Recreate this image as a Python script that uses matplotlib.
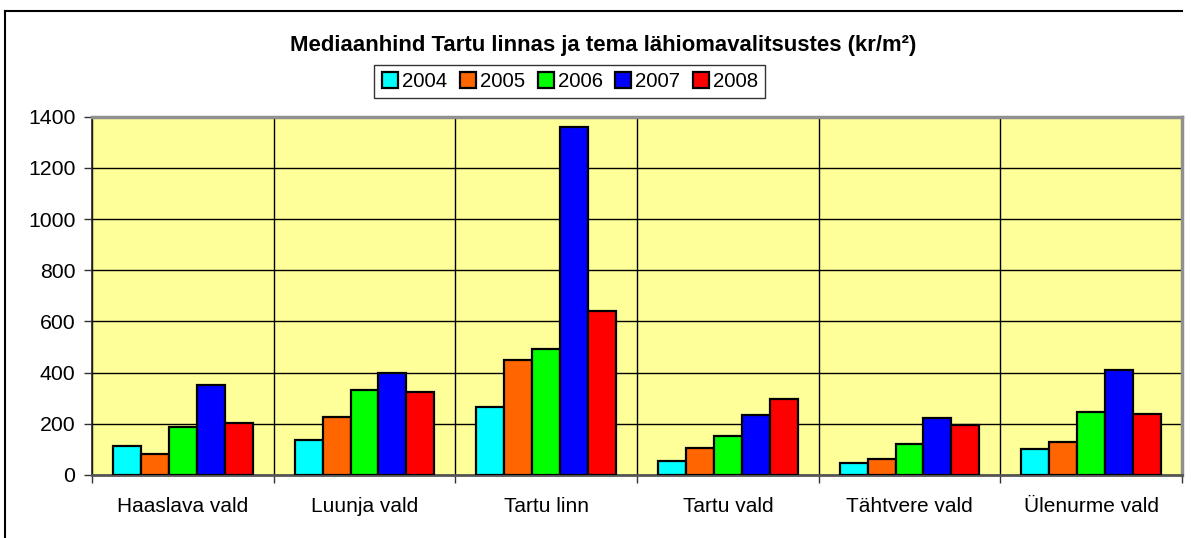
import matplotlib
matplotlib.use("Agg")
import matplotlib.pyplot as plt
import numpy as np
from matplotlib.lines import Line2D

plt.rcParams['font.family'] = ['Liberation Sans', 'DejaVu Sans']

categories = ["Haaslava vald", "Luunja vald", "Tartu linn", "Tartu vald", "Tähtvere vald", "Ülenurme vald"]
years = ["2004", "2005", "2006", "2007", "2008"]
v2004 = [114, 137, 264, 55, 46, 103]
v2005 = [81, 228, 449, 104, 64, 129]
v2006 = [186, 332, 491, 152, 121, 246]
v2007 = [352, 397, 1358, 233, 222, 411]
v2008 = [204, 325, 641, 296, 195, 238]
series = [v2004, v2005, v2006, v2007, v2008]
colors = ["#00FFFF", "#FF6600", "#00FF00", "#0000FF", "#FF0000"]
title = "Mediaanhind Tartu linnas ja tema lähiomavalitsustes (kr/m²)"

W, H = 1191, 538
fig = plt.figure(figsize=(W / 100, H / 100), dpi=100)
ax = fig.add_axes([92 / W, (H - 475) / H, (1182 - 92) / W, (475 - 116.7) / H])
ax.set_facecolor("#FFFF99")

x = np.arange(len(categories))
bw = 1 / 6.5
for j, (vals, c) in enumerate(zip(series, colors)):
    ax.bar(x + (j - 2) * bw, vals, width=bw, color=c, edgecolor="black",
           linewidth=1.6, zorder=3, label=years[j])

ax.set_xlim(-0.5, len(categories) - 0.5)
ax.set_ylim(0, 1400)
ax.set_yticks(np.arange(0, 1401, 200))
ax.set_xticks(np.arange(-0.5, len(categories)), labels=[])
ax.set_xticks(x, labels=categories, minor=True)
ax.tick_params(axis='x', which='major', direction='out', length=6, width=1, color='#333333')
ax.tick_params(axis='x', which='minor', length=0, pad=16, labelsize=15)
ax.tick_params(axis='y', direction='out', length=6, width=1, pad=6, labelsize=15.3, color='#333333')
ax.grid(True, which='major', color='black', linewidth=1, zorder=1)
ax.set_axisbelow(True)

for s in ['top', 'right']:
    ax.spines[s].set_color('#909090')
    ax.spines[s].set_linewidth(2.5)
ax.spines['left'].set_color('#222222')
ax.spines['left'].set_linewidth(1.2)
ax.spines['bottom'].set_color('#555555')
ax.spines['bottom'].set_linewidth(2)

fig.text(0.5 * (290 + 917) / W, (H - 45) / H, title, ha='center', va='center',
         fontsize=15.9, fontweight='bold')

handles = [Line2D([], [], marker='s', linestyle='none', markersize=11,
                  markerfacecolor=c, markeredgecolor='black', markeredgewidth=1.6)
           for c in colors]
leg = fig.legend(handles, years, loc='center', ncol=5,
                 bbox_to_anchor=((372 + 767) / 2 / W, (H - 81.5) / H),
                 fontsize=14.7, handlelength=0.9, handletextpad=0.15,
                 columnspacing=0.55, borderpad=0.35, fancybox=False, framealpha=1)
leg.get_frame().set_edgecolor('#333333')
leg.get_frame().set_linewidth(1)

fig.add_artist(Line2D([5 / W, 1182 / W], [(H - 11) / H] * 2, color='black', linewidth=1.5))
fig.add_artist(Line2D([5 / W, 5 / W], [(H - 11) / H, 0], color='black', linewidth=1.5))

fig.savefig("out.png", dpi=100)
